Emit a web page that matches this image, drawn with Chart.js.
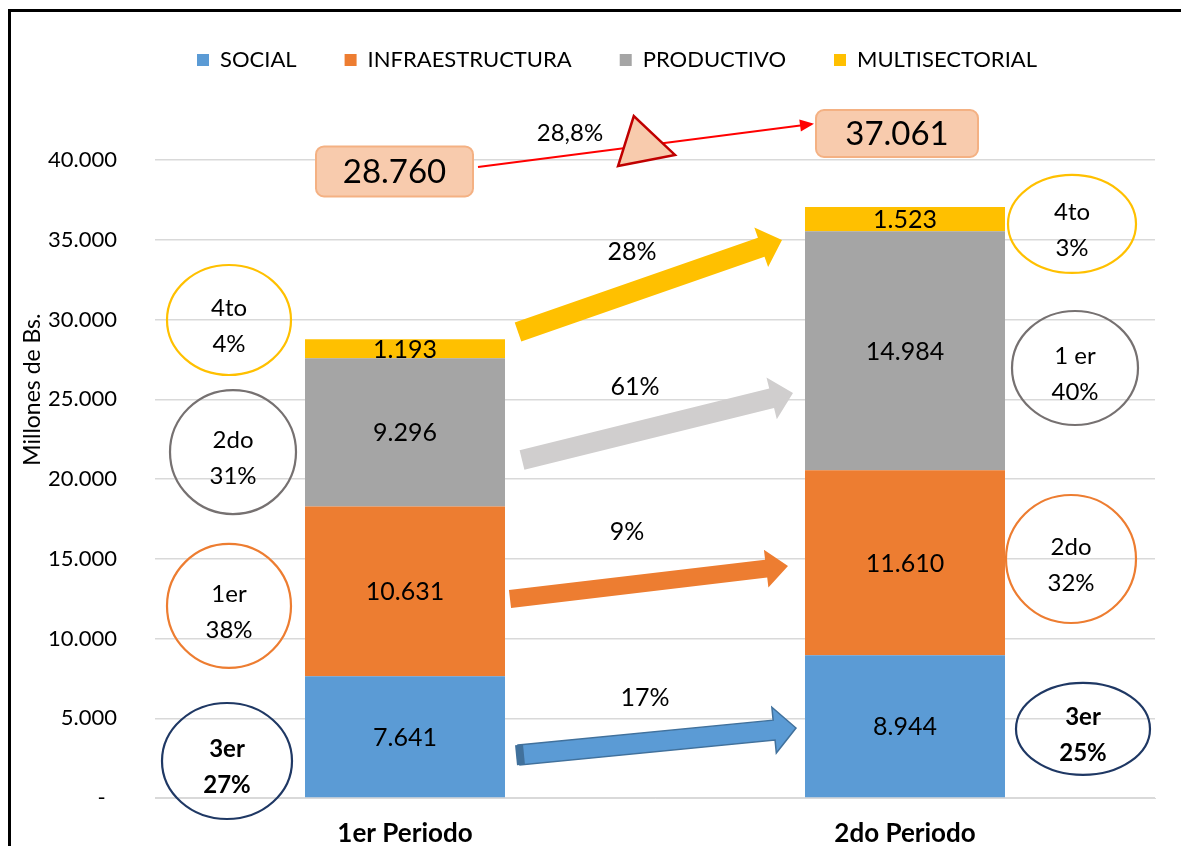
<!DOCTYPE html>
<html>
<head>
<meta charset="utf-8">
<script src="https://cdn.jsdelivr.net/npm/chart.js@4.4.1/dist/chart.umd.min.js"></script>
<style>
  html, body { margin: 0; padding: 0; background: #fff; }
  #wrap { position: relative; width: 1181px; height: 846px; overflow: hidden; }
  #wrap canvas { position: absolute; left: 0; top: 0; }
  #frame { position: absolute; left: 8px; top: 9px; width: 1300px; height: 900px;
           border-left: 3px solid #000; border-top: 3px solid #000; pointer-events: none; }
</style>
</head>
<body>
<div id="wrap">
  <canvas id="myChart" width="1181" height="846"></canvas>
  <div id="frame"></div>
</div>
<script>
const FONT = 'Lato, "Open Sans", sans-serif';

// chart data
const periods = ['1er Periodo', '2do Periodo'];
const social = [7641, 8944];
const infraestructura = [10631, 11610];
const productivo = [9296, 14984];
const multisectorial = [1193, 1523];
const totals = [28760, 37061];
const totalGrowth = '28,8%';
const yTicks = [0, 5000, 10000, 15000, 20000, 25000, 30000, 35000, 40000];

// share notes (ellipses): category, pixel offset from bar, value on y axis
const shareNotes = [
  { cat: 0, dx: -176, val: 29970, rx: 62, ry: 55, color: '#FFC000', lines: ['4to', '4%'], bold: false },
  { cat: 0, dx: -172, val: 21690, rx: 63, ry: 62, color: '#767171', lines: ['2do', '31%'], bold: false },
  { cat: 0, dx: -176, val: 12040, rx: 62, ry: 62, color: '#ED7D31', lines: ['1er', '38%'], bold: false },
  { cat: 0, dx: -178, val: 2320, rx: 65, ry: 58, color: '#1F3864', lines: ['3er', '27%'], bold: true },
  { cat: 1, dx: 167, val: 35990, rx: 64, ry: 49, color: '#FFC000', lines: ['4to', '3%'], bold: false },
  { cat: 1, dx: 170, val: 26960, rx: 63, ry: 57, color: '#767171', lines: ['1 er', '40%'], bold: false },
  { cat: 1, dx: 166, val: 14985, rx: 65, ry: 64, color: '#ED7D31', lines: ['2do', '32%'], bold: false },
  { cat: 1, dx: 178, val: 4330, rx: 67, ry: 46, color: '#1F3864', lines: ['3er', '25%'], bold: true }
];

// growth arrows between periods
const growthArrows = [
  { from: [0, 113, 29216], to: [1, -123, 34984], sw: 20, hw: 42, hl: 22, fill: '#FFC000', stroke: null },
  { from: [0, 117, 21191], to: [1, -112, 25392], sw: 20, hw: 43, hl: 22, fill: '#D0CECE', stroke: null },
  { from: [0, 105, 12477], to: [1, -117, 14545], sw: 18, hw: 38, hl: 22, fill: '#ED7D31', stroke: null },
  { from: [0, 114, 2696], to: [1, -109, 4389], sw: 20, hw: 46, hl: 22, fill: '#5B9BD5', stroke: '#41719C' }
];
const growthLabels = ['28%', '61%', '9%', '17%'];
const growthLabelPos = [[0, 227, 34234], [0, 230, 25770], [0, 222, 16680], [0, 240, 6270]];

function fmt(v) {
  return String(v).replace(/\B(?=(\d{3})+(?!\d))/g, '.');
}

function drawBlockArrow(ctx, x1, y1, x2, y2, a) {
  const len = Math.hypot(x2 - x1, y2 - y1);
  const ang = Math.atan2(y2 - y1, x2 - x1);
  ctx.save();
  ctx.translate(x1, y1);
  ctx.rotate(ang);
  ctx.beginPath();
  ctx.moveTo(0, -a.sw / 2);
  ctx.lineTo(len - a.hl, -a.sw / 2);
  ctx.lineTo(len - a.hl, -a.hw / 2);
  ctx.lineTo(len, 0);
  ctx.lineTo(len - a.hl, a.hw / 2);
  ctx.lineTo(len - a.hl, a.sw / 2);
  ctx.lineTo(0, a.sw / 2);
  ctx.closePath();
  ctx.fillStyle = a.fill;
  ctx.fill();
  if (a.stroke) {
    ctx.strokeStyle = a.stroke;
    ctx.lineWidth = 1.5;
    ctx.stroke();
    // darker tail end
    ctx.fillStyle = a.stroke;
    ctx.fillRect(-3, -a.sw / 2, 8, a.sw);
  }
  ctx.restore();
}

function roundBox(ctx, cx, cy, w, h, r) {
  ctx.beginPath();
  ctx.roundRect(cx - w / 2, cy - h / 2, w, h, r);
  ctx.fillStyle = '#F8CBAD';
  ctx.fill();
  ctx.strokeStyle = '#F4B183';
  ctx.lineWidth = 2;
  ctx.stroke();
}

// values written in the middle of each segment
const segmentLabels = {
  id: 'segmentLabels',
  afterDatasetsDraw(chart) {
    const ctx = chart.ctx;
    ctx.save();
    ctx.font = '25px ' + FONT;
    ctx.fillStyle = '#000';
    ctx.textAlign = 'center';
    ctx.textBaseline = 'middle';
    chart.data.datasets.forEach((ds, i) => {
      chart.getDatasetMeta(i).data.forEach((bar, j) => {
        ctx.fillText(fmt(ds.data[j]), bar.x, (bar.y + bar.base) / 2 + 1);
      });
    });
    ctx.restore();
  }
};

// legend spacing and position
const layoutFix = {
  id: 'layoutFix',
  beforeInit(chart) {
    const fit = chart.legend.fit;
    chart.legend.fit = function () {
      fit.call(this);
      this.height = 159;
    };
  },
  afterLayout(chart) {
    chart.legend.left = 79;
    chart.legend.right = 1155;
  }
};

// ellipses, arrows, totals
const notes = {
  id: 'notes',
  afterDraw(chart) {
    const { ctx, scales: { x, y } } = chart;
    const at = (p) => ({ x: x.getPixelForValue(p[0]) + p[1], y: y.getPixelForValue(p[2]) });
    ctx.save();

    // y axis title
    ctx.save();
    ctx.translate(y.left + 23, y.getPixelForValue(25600));
    ctx.rotate(-Math.PI / 2);
    ctx.font = '23px ' + FONT;
    ctx.fillStyle = '#000';
    ctx.textAlign = 'center';
    ctx.textBaseline = 'middle';
    ctx.fillText('Millones de Bs.', 0, 0);
    ctx.restore();

    growthArrows.forEach(a => {
      const p1 = at(a.from), p2 = at(a.to);
      drawBlockArrow(ctx, p1.x, p1.y, p2.x, p2.y, a);
    });

    ctx.font = '25px ' + FONT;
    ctx.fillStyle = '#000';
    ctx.textAlign = 'center';
    ctx.textBaseline = 'middle';
    growthLabels.forEach((t, i) => {
      const p = at(growthLabelPos[i]);
      ctx.fillText(t, p.x, p.y);
    });

    shareNotes.forEach(n => {
      const c = at([n.cat, n.dx, n.val]);
      ctx.beginPath();
      ctx.ellipse(c.x, c.y, n.rx, n.ry, 0, 0, Math.PI * 2);
      ctx.strokeStyle = n.color;
      ctx.lineWidth = 2.2;
      ctx.stroke();
      ctx.font = (n.bold ? 'bold ' : '') + '24px ' + FONT;
      ctx.fillStyle = '#000';
      ctx.fillText(n.lines[0], c.x, c.y - 12);
      ctx.fillText(n.lines[1], c.x, c.y + 24);
    });

    // totals and total growth
    const b1 = at([0, -10.5, 39280]);
    const b2 = at([1, -8, 41662]);
    const l1 = at([0, 73, 39561]);
    const l2 = at([1, -93, 42257]);

    ctx.strokeStyle = '#FF0000';
    ctx.fillStyle = '#FF0000';
    ctx.lineWidth = 2;
    ctx.beginPath();
    ctx.moveTo(l1.x, l1.y);
    ctx.lineTo(l2.x, l2.y);
    ctx.stroke();
    const ang = Math.atan2(l2.y - l1.y, l2.x - l1.x);
    ctx.save();
    ctx.translate(l2.x, l2.y);
    ctx.rotate(ang);
    ctx.beginPath();
    ctx.moveTo(2, 0);
    ctx.lineTo(-12, -6);
    ctx.lineTo(-12, 6);
    ctx.closePath();
    ctx.fill();
    ctx.restore();

    const tb = at([0, 241.5, 39969]);
    ctx.save();
    ctx.translate(tb.x, tb.y);
    ctx.rotate(-11 * Math.PI / 180);
    ctx.beginPath();
    ctx.moveTo(-29, 0);
    ctx.lineTo(29, 0);
    ctx.lineTo(-4, -46);
    ctx.closePath();
    ctx.fillStyle = '#F8CBAD';
    ctx.fill();
    ctx.strokeStyle = '#C00000';
    ctx.lineWidth = 2.5;
    ctx.stroke();
    ctx.restore();

    roundBox(ctx, b1.x, b1.y, 157, 50, 8);
    roundBox(ctx, b2.x, b2.y, 162, 47, 8);
    ctx.fillStyle = '#000';
    ctx.font = '33px ' + FONT;
    ctx.fillText(fmt(totals[0]), b1.x, b1.y + 1);
    ctx.fillText(fmt(totals[1]), b2.x, b2.y + 1);

    const gp = at([0, 165, 41700]);
    ctx.font = '24px ' + FONT;
    ctx.fillText(totalGrowth, gp.x, gp.y);

    ctx.restore();
  }
};

Chart.defaults.font.family = FONT;
Chart.defaults.color = '#000';

const ctx = document.getElementById('myChart').getContext('2d');
const myChart = new Chart(ctx, {
  type: 'bar',
  data: {
    labels: periods,
    datasets: [
      { label: 'SOCIAL', data: social, backgroundColor: '#5B9BD5' },
      { label: 'INFRAESTRUCTURA', data: infraestructura, backgroundColor: '#ED7D31' },
      { label: 'PRODUCTIVO', data: productivo, backgroundColor: '#A5A5A5' },
      { label: 'MULTISECTORIAL', data: multisectorial, backgroundColor: '#FFC000' }
    ]
  },
  options: {
    responsive: false,
    animation: false,
    devicePixelRatio: 1,
    categoryPercentage: 0.4,
    barPercentage: 1.0,
    layout: { padding: { top: 1, left: 10, right: 26, bottom: 0 } },
    scales: {
      x: {
        stacked: true,
        grid: { display: false, drawTicks: false },
        border: { color: '#D9D9D9', width: 1 },
        ticks: { font: { size: 26, weight: 'bold', lineHeight: 1.0 }, padding: 23, color: '#000' },
        afterFit(scale) { scale.height = 48; }
      },
      y: {
        stacked: true,
        min: 0,
        max: 40000,
        afterBuildTicks(scale) { scale.ticks = yTicks.map(v => ({ value: v })); },
        ticks: {
          padding: 8,
          font: { size: 22 },
          color: '#000',
          callback: v => v === 0 ? '-  ' : fmt(v)
        },
        grid: { color: '#D9D9D9', drawTicks: true, tickLength: 30, tickColor: 'rgba(0,0,0,0)', lineWidth: 1.5 },
        border: { display: false },
        afterFit(scale) { scale.width = 145; }
      }
    },
    plugins: {
      legend: {
        position: 'top',
        labels: { boxWidth: 12, boxHeight: 12, padding: 48, font: { size: 22 }, color: '#000' }
      },
      tooltip: { enabled: false }
    }
  },
  plugins: [layoutFix, segmentLabels, notes]
});
</script>
</body>
</html>
